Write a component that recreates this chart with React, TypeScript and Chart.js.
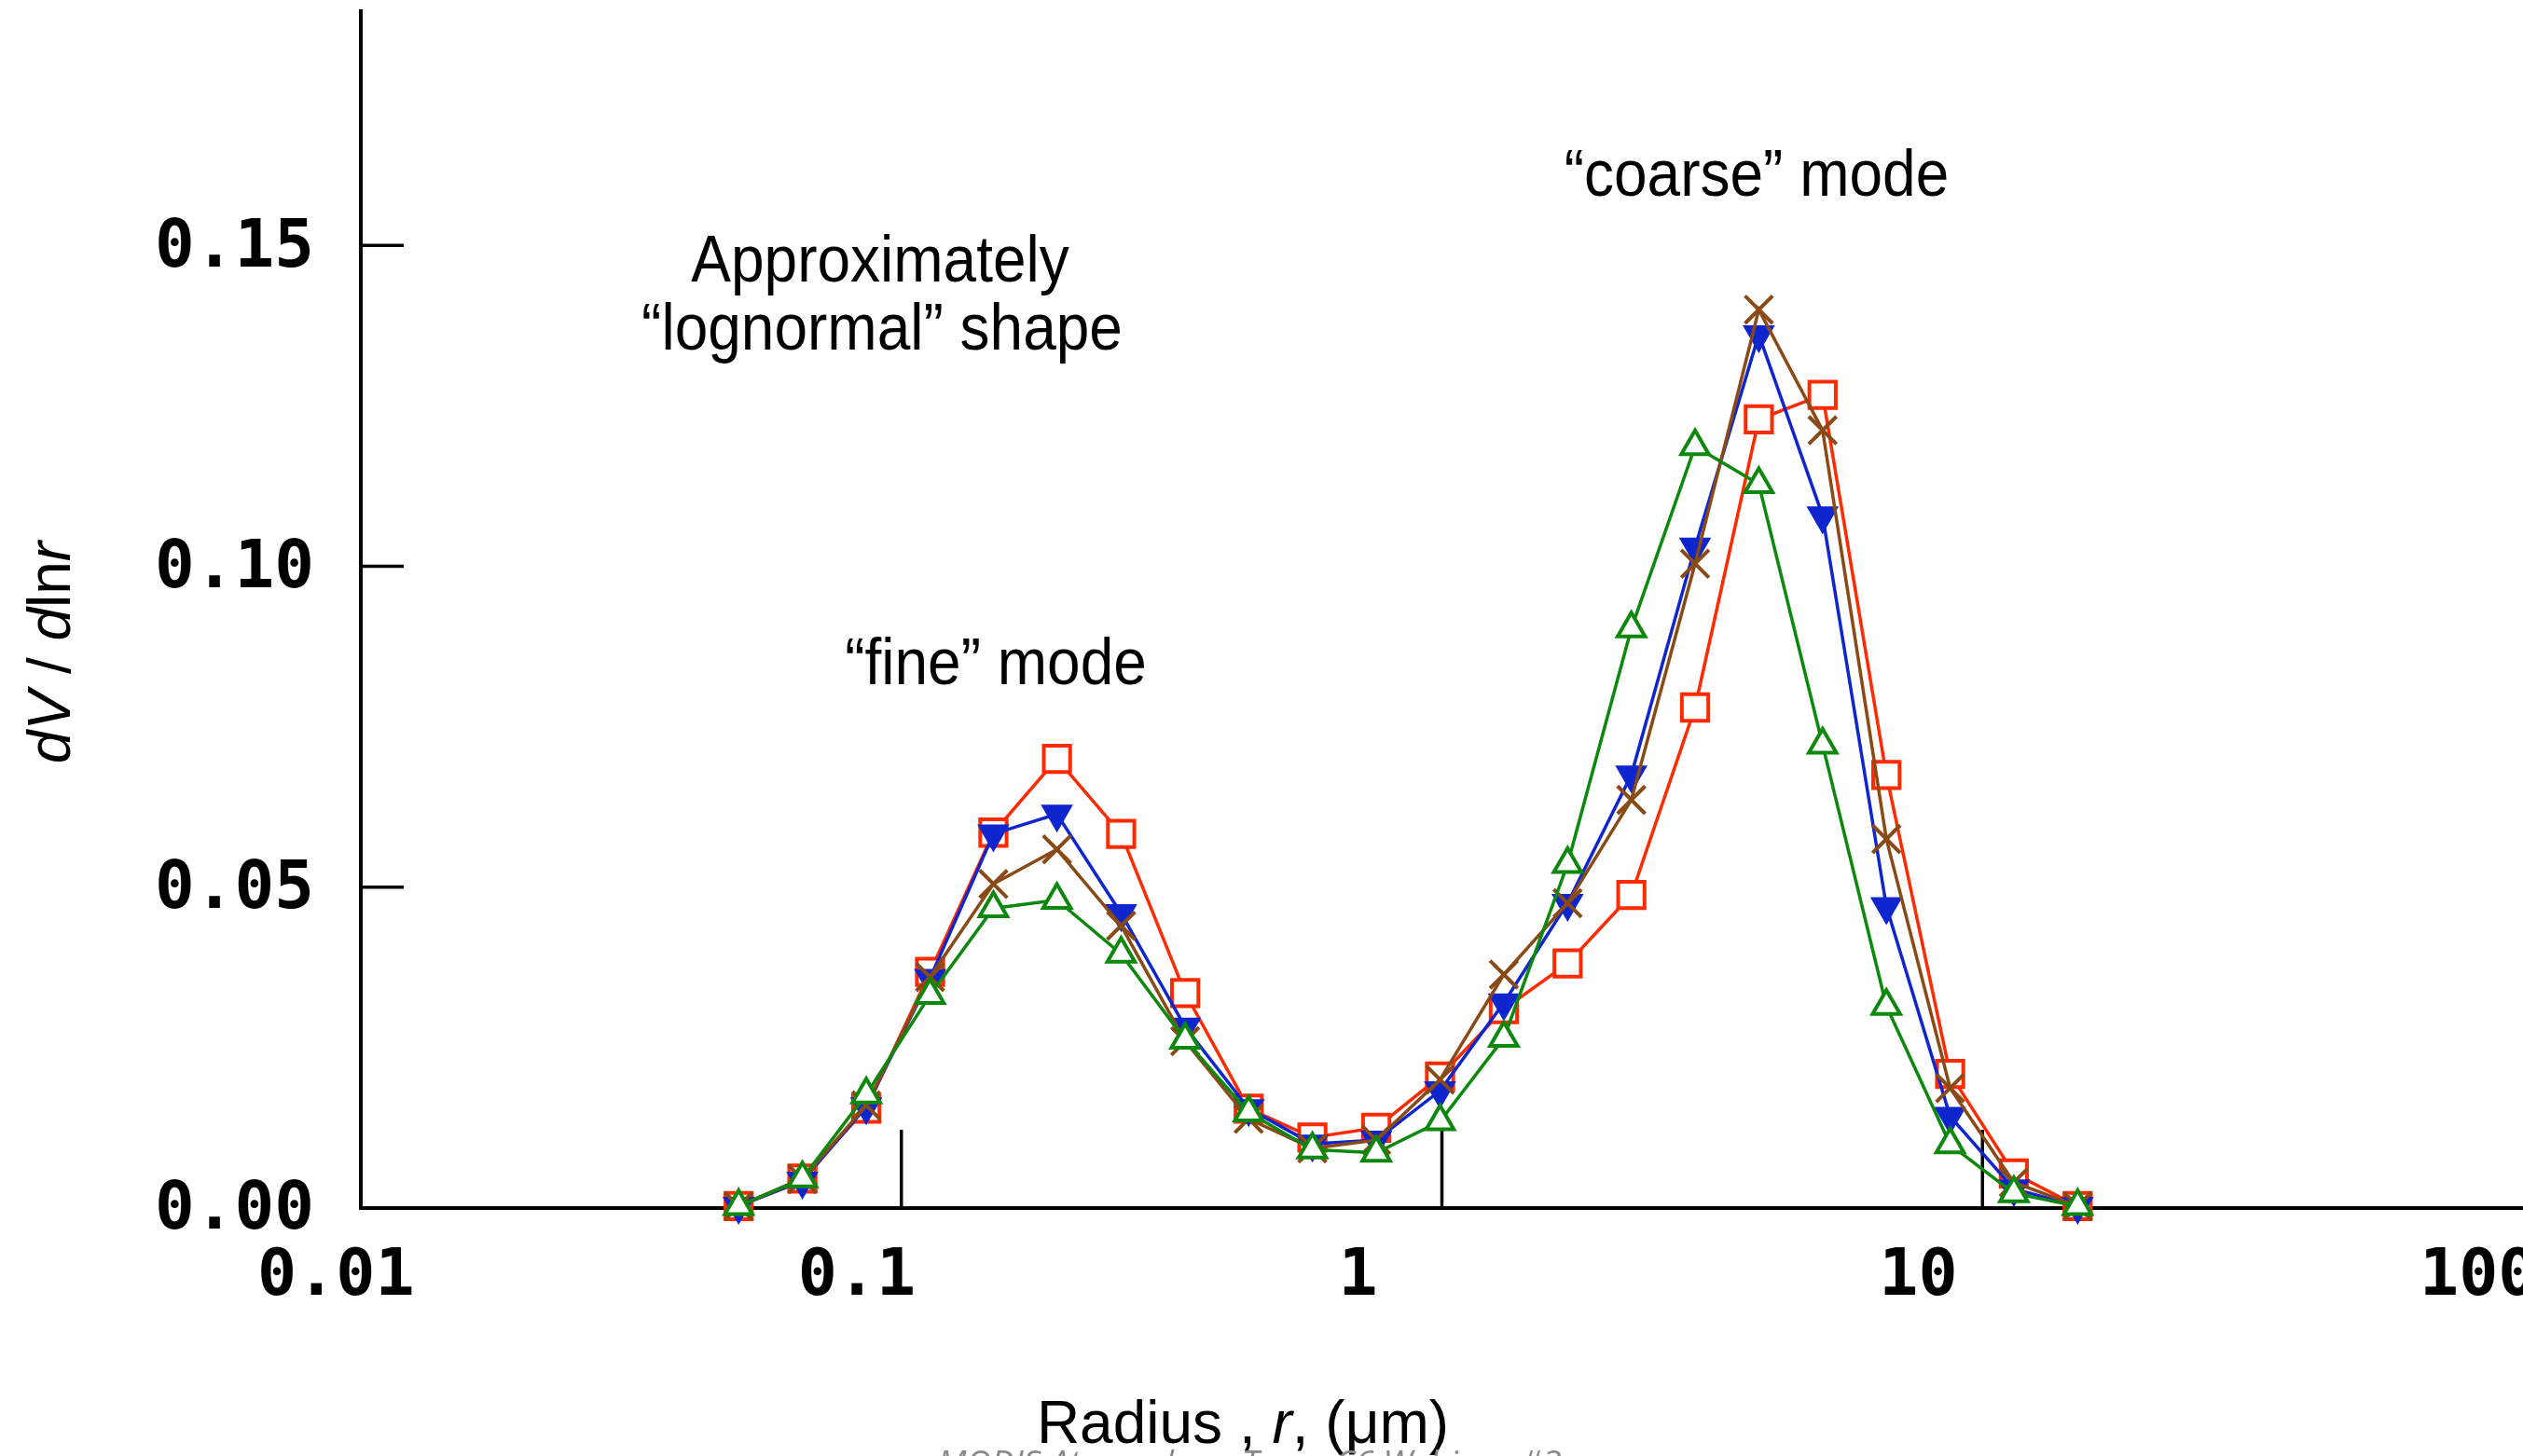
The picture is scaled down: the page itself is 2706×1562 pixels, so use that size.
import React, { useEffect, useRef } from 'react';
import { Chart, registerables } from 'chart.js';

Chart.register(...registerables);

// Radius bins (µm)
const RADII = [0.05, 0.0656, 0.0861, 0.113, 0.148, 0.194, 0.255, 0.335, 0.439, 0.576, 0.756, 0.992, 1.302, 1.708, 2.241, 2.94, 3.857, 5.061, 6.641, 8.713, 11.43, 15.0];

// dV/dlnr series
const RED_SERIES = [0.0003, 0.0046, 0.0155, 0.0368, 0.0585, 0.0700, 0.0583, 0.0335, 0.0155, 0.0110, 0.0125, 0.0205, 0.0310, 0.0381, 0.0488, 0.0780, 0.1229, 0.1267, 0.0675, 0.0209, 0.0054, 0.0003];
const BLUE_SERIES = [0.0003, 0.0042, 0.0158, 0.0358, 0.0583, 0.0614, 0.0459, 0.0282, 0.0155, 0.0100, 0.0106, 0.0183, 0.0320, 0.0475, 0.0675, 0.1030, 0.1361, 0.1079, 0.0470, 0.0143, 0.0030, 0.0003];
const BROWN_SERIES = [0.0003, 0.0045, 0.0160, 0.0360, 0.0505, 0.0559, 0.0440, 0.0260, 0.0139, 0.0093, 0.0106, 0.0200, 0.0364, 0.0475, 0.0636, 0.1004, 0.1400, 0.1212, 0.0575, 0.0187, 0.0040, 0.0003];
const GREEN_SERIES = [0.0003, 0.0046, 0.0177, 0.0332, 0.0467, 0.0480, 0.0396, 0.0262, 0.0149, 0.0091, 0.0086, 0.0135, 0.0265, 0.0536, 0.0903, 0.1187, 0.1128, 0.0722, 0.0315, 0.0099, 0.0023, 0.0003];

const X_TICKS = [0.01, 0.1, 1, 10, 100];
const X_TICK_LABELS = ['0.01', '0.1', '1', '10', '100'];
const Y_TICKS = [0, 0.05, 0.1, 0.15];
const Y_TICK_LABELS = ['0.00', '0.05', '0.10', '0.15'];

const ANNOTATIONS = [
  { text: 'Approximately', x: 944, y: 302 },
  { text: '\u201Clognormal\u201D shape', x: 946, y: 375 },
  { text: '\u201Cfine\u201D mode', x: 1068, y: 734 },
  { text: '\u201Ccoarse\u201D mode', x: 1884, y: 210 },
];

const X_TITLE = [
  { t: 'Radius , ', italic: false },
  { t: 'r', italic: true },
  { t: ', (\u03BCm)', italic: false },
];
const Y_TITLE = [
  { t: 'dV', italic: true },
  { t: ' / ', italic: false },
  { t: 'd', italic: true },
  { t: 'ln', italic: false },
  { t: 'r', italic: true },
];
const FOOTER = 'MODIS Atmosphere Team C6 Webinar #3';

const SANS = '"Liberation Sans", Arial, Helvetica, sans-serif';
const MONO = '"DejaVu Sans Mono", monospace';

function drawSegments(ctx: CanvasRenderingContext2D, segs: { t: string; italic: boolean }[], cx: number, cy: number, size: number, rotate: boolean) {
  ctx.save();
  ctx.translate(cx, cy);
  if (rotate) ctx.rotate(-Math.PI / 2);
  const fonts = segs.map((s) => `${s.italic ? 'italic ' : ''}${size}px ${SANS}`);
  const widths = segs.map((s, i) => {
    ctx.font = fonts[i];
    return ctx.measureText(s.t).width;
  });
  const total = widths.reduce((a, b) => a + b, 0);
  let x = -total / 2;
  ctx.fillStyle = '#000';
  ctx.textAlign = 'left';
  ctx.textBaseline = 'alphabetic';
  segs.forEach((s, i) => {
    ctx.font = fonts[i];
    ctx.fillText(s.t, x, 0);
    x += widths[i];
  });
  ctx.restore();
}

const inwardTicks = {
  id: 'inwardTicks',
  beforeDatasetsDraw(chart: any) {
    const { ctx, scales, chartArea } = chart;
    const xs = scales.x;
    const ys = scales.y;
    ctx.save();
    ctx.strokeStyle = '#000';
    ctx.lineWidth = 3.5;
    X_TICKS.forEach((v) => {
      if (v <= xs.min || v >= xs.max) return;
      const px = xs.getPixelForValue(v);
      ctx.beginPath();
      ctx.moveTo(px, chartArea.bottom);
      ctx.lineTo(px, chartArea.bottom - 84);
      ctx.stroke();
    });
    Y_TICKS.forEach((v) => {
      if (v <= ys.min) return;
      const py = ys.getPixelForValue(v);
      ctx.beginPath();
      ctx.moveTo(chartArea.left, py);
      ctx.lineTo(chartArea.left + 46, py);
      ctx.stroke();
    });
    ctx.restore();
  },
};

const textLayer = {
  id: 'textLayer',
  afterDraw(chart: any) {
    const { ctx } = chart;
    ctx.save();
    ctx.fillStyle = '#000';
    ctx.textAlign = 'center';
    ctx.textBaseline = 'alphabetic';
    ctx.font = `64px ${SANS}`;
    ANNOTATIONS.forEach((a) => {
      ctx.save();
      ctx.translate(a.x, a.y);
      ctx.scale(1, 1.1);
      ctx.fillText(a.text, 0, 0);
      ctx.restore();
    });
    ctx.restore();

    drawSegments(ctx, X_TITLE, 1333, 1548, 64, false);
    drawSegments(ctx, Y_TITLE, 75, 700, 64, true);

    ctx.save();
    ctx.fillStyle = '#8a8a8a';
    ctx.textAlign = 'center';
    ctx.textBaseline = 'alphabetic';
    ctx.font = `italic 37px "Open Sans", ${SANS}`;
    ctx.fillText(FOOTER, 1340, 1582);
    ctx.restore();
  },
};

function makeDataset(values: number[], color: string, style: string, radius: number, filled: boolean, rotation = 0) {
  return {
    data: RADII.map((r, i) => ({ x: r, y: values[i] })),
    borderColor: color,
    backgroundColor: color,
    borderWidth: 3.5,
    pointStyle: style,
    pointRadius: radius,
    pointRotation: rotation,
    pointBorderWidth: 4,
    pointBorderColor: color,
    pointBackgroundColor: filled ? color : '#ffffff',
    tension: 0,
    fill: false,
    clip: false,
  };
}

export default function App() {
  const canvasRef = useRef<HTMLCanvasElement | null>(null);

  useEffect(() => {
    const canvas = canvasRef.current;
    if (!canvas) return;
    const chart = new Chart(canvas, {
      type: 'line',
      data: {
        datasets: [
          makeDataset(GREEN_SERIES, '#0c880c', 'triangle', 17, false),
          makeDataset(BROWN_SERIES, '#8a4a16', 'crossRot', 21, false),
          makeDataset(BLUE_SERIES, '#0f26cf', 'triangle', 16, true, 180),
          makeDataset(RED_SERIES, '#ff2a00', 'rect', 20, false),
        ] as any,
      },
      options: {
        animation: false,
        responsive: false,
        devicePixelRatio: 1,
        layout: { autoPadding: false, padding: { top: 12, left: 0, right: 0, bottom: 0 } },
        plugins: {
          legend: { display: false },
          tooltip: { enabled: false },
          title: { display: false },
        },
        scales: {
          x: {
            type: 'logarithmic',
            position: 'bottom',
            min: 0.01,
            max: 100,
            grid: { display: false, drawTicks: false },
            border: { display: true, color: '#000', width: 4 },
            afterBuildTicks: (s: any) => {
              s.ticks = X_TICKS.map((v) => ({ value: v }));
            },
            afterFit: (s: any) => {
              s.height = 266;
              s.paddingLeft = 0;
              s.paddingRight = 0;
            },
            ticks: {
              align: 'start',
              labelOffset: -111,
              padding: 33,
              maxRotation: 0,
              minRotation: 0,
              autoSkip: false,
              color: '#000',
              font: { family: MONO, weight: 'bold', size: 70 },
              callback: (_v: any, i: number) => X_TICK_LABELS[i],
            },
          },
          y: {
            type: 'linear',
            min: 0,
            max: 0.1865,
            grid: { display: false, drawTicks: false },
            border: { display: true, color: '#000', width: 4 },
            afterBuildTicks: (s: any) => {
              s.ticks = Y_TICKS.map((v) => ({ value: v }));
            },
            afterFit: (s: any) => {
              s.width = 387;
              s.paddingTop = 0;
              s.paddingBottom = 0;
            },
            ticks: {
              padding: 50,
              labelOffset: 4,
              autoSkip: false,
              color: '#000',
              font: { family: MONO, weight: 'bold', size: 71 },
              callback: (_v: any, i: number) => Y_TICK_LABELS[i],
            },
          },
        },
      } as any,
      plugins: [inwardTicks, textLayer],
    });
    return () => chart.destroy();
  }, []);

  return (
    <div style={{ position: 'fixed', left: 0, top: 0, width: 2706, height: 1562, background: '#fff' }}>
      <canvas ref={canvasRef} width={2706} height={1562} style={{ display: 'block', width: 2706, height: 1562 }} />
    </div>
  );
}
